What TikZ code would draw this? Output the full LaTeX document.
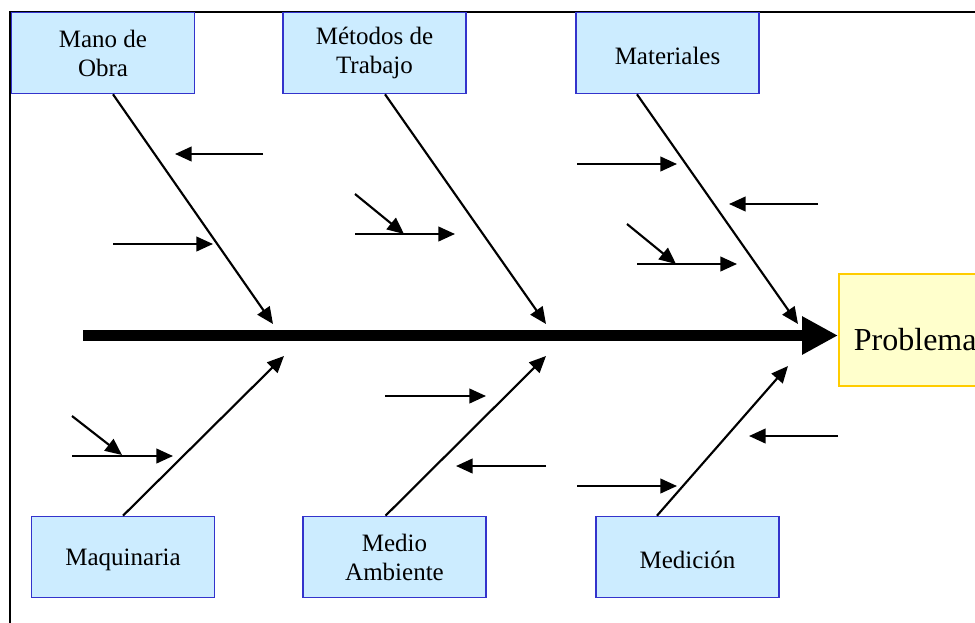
\documentclass[tikz,border=0pt]{standalone}
\usepackage{fontspec}
\setmainfont{Liberation Serif}
\usetikzlibrary{arrows.meta}
\definecolor{boxfill}{HTML}{CCECFF}
\definecolor{boxline}{HTML}{3333CC}
\definecolor{probfill}{HTML}{FFFFCC}
\definecolor{probline}{HTML}{FFCC00}
\tikzset{
  cause/.style={draw=boxline, fill=boxfill, line width=1.2pt, minimum width=137.25pt, minimum height=60.75pt, inner sep=2pt, align=center, font=\fontsize{18.75pt}{21.75pt}\selectfont},
  probbox/.style={draw=probline, fill=probfill, line width=1.4pt, minimum height=84pt, text width=105pt, inner xsep=11.25pt, align=left, anchor=west, font=\fontsize{24pt}{28pt}\selectfont},
  bone/.style={line width=1.6pt, -{Triangle[length=12.5pt,width=11pt]}},
  twig/.style={line width=1.6pt, -{Triangle[length=12.5pt,width=11pt]}},
  spine/.style={line width=8.25pt, -{Triangle[length=27pt,width=27pt]}},
  frame/.style={line width=1.2pt}
}
\newcommand{\lowtext}[1]{\raisebox{-2.5pt}[\height][\depth]{#1}}
\begin{document}
\begin{tikzpicture}[x=0.75pt,y=-0.75pt]
\useasboundingbox (0,0) rectangle (975,622);
\clip (0,0) rectangle (975,622);
\fill[white] (0,0) rectangle (975,622);
% frame
\coordinate (f0) at (10,12);
\coordinate (f1) at (976,12);
\coordinate (f2) at (10,623);
\draw[frame] (f1) -- (f0) -- (f2);
% boxes
\node[cause] (mano) at (103,53) {Mano de\\Obra};
\node[cause] (metodos) at (374.5,53) {Métodos de\\Trabajo};
\node[cause] (materiales) at (667.5,53) {\lowtext{Materiales}};
\node[cause] (maquinaria) at (123,557) {\lowtext{Maquinaria}};
\node[cause] (medio) at (394.5,557) {Medio\\Ambiente};
\node[cause] (medicion) at (687.5,557) {\lowtext{Medición}};
\node[probbox] (prob) at (838,330) {\raisebox{-7pt}[\height][\depth]{Problema}};
% spine
\coordinate (s0) at (83,335.5);
\draw[spine] (s0) -- (s0 -| prob.west);
% bone tips
\coordinate (t1) at (273,324);
\coordinate (t2) at (546,324);
\coordinate (t3) at (798,324);
\coordinate (t4) at (284,356);
\coordinate (t5) at (546,356);
\coordinate (t6) at (788,366);
\draw[bone] ([xshift=7.5pt]mano.south) -- (t1);
\draw[bone] ([xshift=7.9pt]metodos.south) -- (t2);
\draw[bone] ([xshift=-22.9pt]materiales.south) -- (t3);
\draw[bone] (maquinaria.north) -- (t4);
\draw[bone] ([xshift=-6.75pt]medio.north) -- (t5);
\draw[bone] ([xshift=-22.9pt]medicion.north) -- (t6);
% twigs: Mano de Obra
\coordinate (a1) at (263,154); \coordinate (b1) at (175,154);
\coordinate (a2) at (113,244); \coordinate (b2) at (213,244);
% Metodos
\coordinate (a3) at (355,194); \coordinate (b3) at (404,234);
\coordinate (a4) at (355,234); \coordinate (b4) at (455,234);
% Materiales
\coordinate (a5) at (577,164); \coordinate (b5) at (677,164);
\coordinate (a6) at (818,204); \coordinate (b6) at (729,204);
\coordinate (a7) at (627,224); \coordinate (b7) at (676,264);
\coordinate (a8) at (637,264); \coordinate (b8) at (737,264);
% Maquinaria
\coordinate (a9) at (72,416); \coordinate (b9) at (122,455);
\coordinate (a10) at (72,456); \coordinate (b10) at (173,456);
% Medio
\coordinate (a11) at (385,396); \coordinate (b11) at (486,396);
\coordinate (a12) at (546,466); \coordinate (b12) at (456,466);
% Medicion
\coordinate (a13) at (577,486); \coordinate (b13) at (677,486);
\coordinate (a14) at (838,436); \coordinate (b14) at (749,436);
\foreach \i in {1,...,14}{\draw[twig] (a\i) -- (b\i);}
\end{tikzpicture}
\end{document}
